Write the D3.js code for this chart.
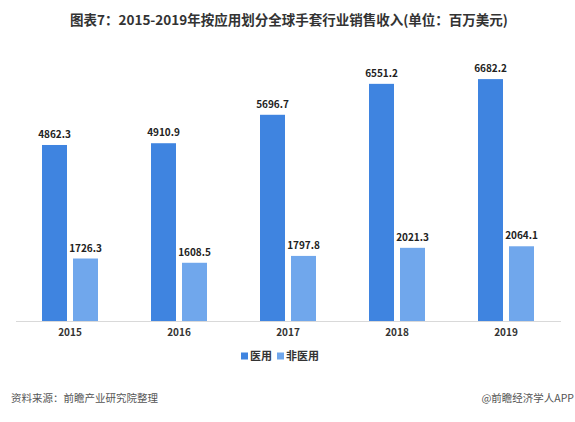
<!DOCTYPE html>
<html>
<head>
<meta charset="utf-8">
<script src="https://cdn.jsdelivr.net/npm/d3@7"></script>
<style>
  body { margin: 0; background: #fff; }
  svg { display: block; font-family: "Noto Sans CJK SC", "Noto Sans", sans-serif; }
</style>
</head>
<body>
<svg width="575" height="422"></svg>
<script>
// data
var years = ["2015", "2016", "2017", "2018", "2019"];
var series = ["医用", "非医用"];
var medical = [4862.3, 4910.9, 5696.7, 6551.2, 6682.2];
var nonMedical = [1726.3, 1608.5, 1797.8, 2021.3, 2064.1];

var colors = {"医用": "#3f84e0", "非医用": "#70a7ec"};

var svg = d3.select("svg");

// title
svg.append("text")
    .attr("x", 289).attr("y", 25)
    .attr("text-anchor", "middle")
    .attr("font-size", 13.5).attr("font-weight", "bold")
    .attr("fill", "#333")
    .text("图表7：2015-2019年按应用划分全球手套行业销售收入(单位：百万美元)");

// scales
var x = d3.scaleBand().domain(years).range([15.5, 560.5]);
var xs = d3.scaleBand().domain(series)
    .range([x.bandwidth() / 2 - 28, x.bandwidth() / 2 + 28])
    .paddingInner(6 / 31);
var y = d3.scaleLinear().domain([0, 8000]).range([321, 321 - 8000 * 0.0362]);

var rows = years.map(function(yr, i) {
    return {year: yr, values: [
        {key: "医用", v: medical[i]},
        {key: "非医用", v: nonMedical[i]}
    ]};
});

var g = svg.append("g");
var grp = g.selectAll(".yr").data(rows).enter().append("g")
    .attr("transform", function(d) { return "translate(" + x(d.year) + ",0)"; });

grp.selectAll("rect").data(function(d) { return d.values; }).enter().append("rect")
    .attr("x", function(d) { return xs(d.key); })
    .attr("y", function(d) { return y(d.v); })
    .attr("width", xs.bandwidth())
    .attr("height", function(d) { return y(0) - y(d.v); })
    .attr("fill", function(d) { return colors[d.key]; });

grp.selectAll(".lbl").data(function(d) { return d.values; }).enter().append("text")
    .attr("x", function(d) { return xs(d.key) + xs.bandwidth() / 2; })
    .attr("y", function(d) { return y(d.v) - 7; })
    .attr("text-anchor", "middle")
    .attr("font-size", 10).attr("font-weight", "bold")
    .attr("fill", "#222")
    .text(function(d) { return d.v.toFixed(1); });

// x axis
var xAxis = svg.append("g")
    .attr("transform", "translate(0,321)")
    .call(d3.axisBottom(x).tickSize(0).tickPadding(8));
xAxis.select(".domain").attr("stroke", "#d9d9d9");
xAxis.selectAll("text")
    .attr("font-size", 10).attr("font-weight", "bold")
    .attr("fill", "#333")
    .style("font-family", "\"Noto Sans CJK SC\", sans-serif");

// legend
var legendX = [241, 277];
var leg = svg.selectAll(".leg").data(series).enter().append("g")
    .attr("transform", function(d, i) { return "translate(" + legendX[i] + ",356)"; });
leg.append("rect")
    .attr("x", 0).attr("y", -3.5).attr("width", 7).attr("height", 7)
    .attr("fill", function(d) { return colors[d]; });
leg.append("text")
    .attr("x", 9).attr("y", 4)
    .attr("font-size", 11).attr("font-weight", "bold")
    .attr("fill", "#333")
    .text(function(d) { return d; });

// footer
svg.append("text")
    .attr("x", 11).attr("y", 402)
    .attr("font-size", 10.5).attr("fill", "#555")
    .text("资料来源：前瞻产业研究院整理");
svg.append("text")
    .attr("x", 574).attr("y", 402)
    .attr("text-anchor", "end")
    .attr("font-size", 10.5).attr("fill", "#555")
    .text("@前瞻经济学人APP");
</script>
</body>
</html>
